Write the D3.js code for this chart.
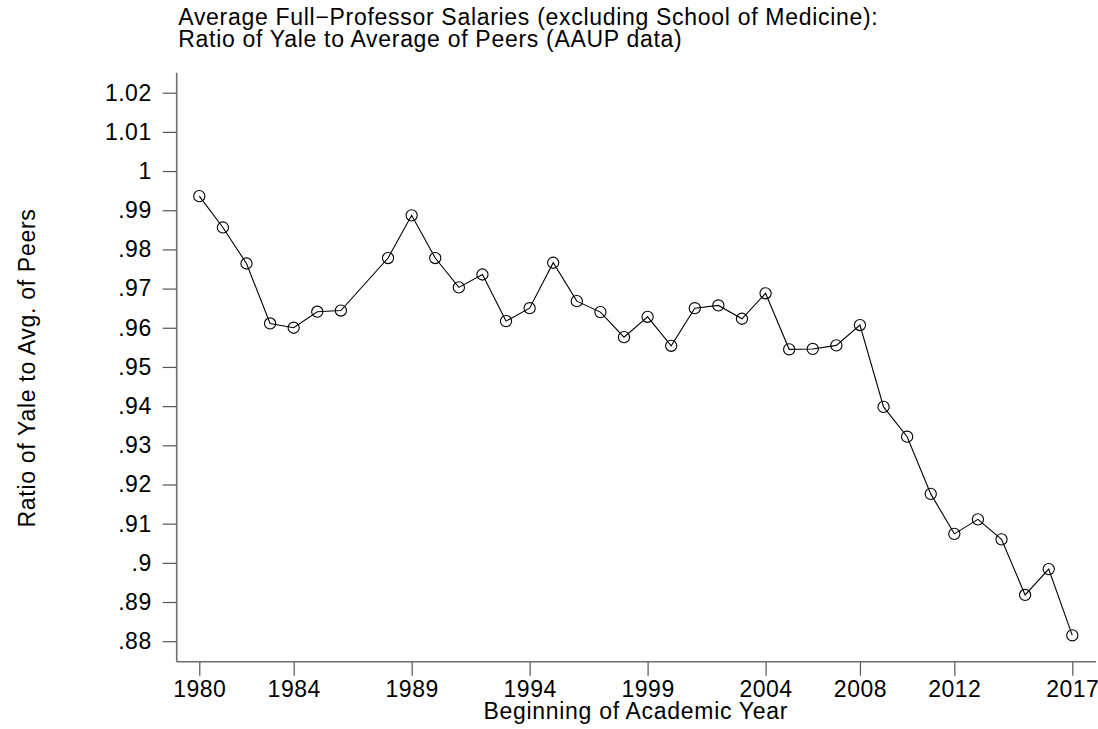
<!DOCTYPE html>
<meta charset="utf-8">
<style>
    body { margin: 0; background: #fff; }
    text { font-family: "Liberation Sans", Arial, sans-serif; fill: #000; }
    .tick text { font-size: 23px; letter-spacing: 0.5px; }
    .tick line { stroke: #555; stroke-width: 1.2px; }
    .axis-line { stroke: #6e6e6e; stroke-width: 1.6px; }
    .lbl { font-size: 23px; letter-spacing: 0.7px; }
    .series { fill: none; stroke: #000; stroke-width: 1.1px; }
    .pt { fill: none; stroke: #000; stroke-width: 1.1px; }
</style>
<body>
<script src="https://d3js.org/d3.v7.min.js"></script>
<script>
    // academic years (no 1987 observation)
    var years = [1980, 1981, 1982, 1983, 1984, 1985, 1986, 1988, 1989, 1990,
        1991, 1992, 1993, 1994, 1995, 1996, 1997, 1998, 1999, 2000,
        2001, 2002, 2003, 2004, 2005, 2006, 2007, 2008, 2009, 2010,
        2011, 2012, 2013, 2014, 2015, 2016, 2017];

    // ratio of Yale to average of peers
    var ratios = [.9936, .9856, .9764, .9611, .9600, .9641, .9644, .9778, .9887, .9778,
        .9703, .9736, .9617, .9650, .9766, .9668, .9640, .9576, .9628, .9554,
        .9650, .9657, .9623, .9688, .9545, .9546, .9555, .9607, .9398, .9322,
        .9176, .9074, .9111, .9060, .8918, .8984, .8815];

    var xTicks = [1980, 1984, 1989, 1994, 1999, 2004, 2008, 2012, 2017];
    var yTicks = [.88, .89, .9, .91, .92, .93, .94, .95, .96, .97, .98, .99, 1, 1.01, 1.02];

    var titleLines = ["Average Full\u2212Professor Salaries (excluding School of Medicine):",
        "Ratio of Yale to Average of Peers (AAUP data)"];
    var xTitle = "Beginning of Academic Year";
    var yTitle = "Ratio of Yale to Avg. of Peers";

    var W = 1098, H = 729;

    var x = d3.scaleLinear().domain([1980, 2017]).range([199.3, 1072.3]);
    var y = d3.scaleLinear().domain([.88, 1.02]).range([641.2, 92.7]);

    var axisX = 176.7, axisY = 661.7;

    var svg = d3.select("body").append("svg")
        .attr("width", W)
        .attr("height", H);

    // title
    svg.append("text")
        .attr("class", "lbl")
        .attr("x", 178.3)
        .attr("y", 25)
        .selectAll("tspan")
        .data(titleLines)
        .enter().append("tspan")
        .attr("x", 178.3)
        .attr("dy", function(d, i) { return i ? 21.7 : 0; })
        .text(function(d) { return d; });

    // y axis
    var fmt = function(d) { return d3.format(".2~f")(d).replace(/^0\./, "."); };
    svg.append("g")
        .attr("transform", "translate(" + axisX + ",0)")
        .call(d3.axisLeft(y).tickValues(yTicks).tickFormat(fmt).tickSize(14).tickPadding(11))
        .call(function(g) { g.select(".domain").remove(); });

    // x axis
    svg.append("g")
        .attr("transform", "translate(0," + axisY + ")")
        .call(d3.axisBottom(x).tickValues(xTicks).tickFormat(d3.format("d")).tickSize(14).tickPadding(5))
        .call(function(g) { g.select(".domain").remove(); });

    svg.selectAll(".tick text").attr("font-family", null).attr("font-size", null);

    // axis lines
    svg.append("line").attr("class", "axis-line")
        .attr("x1", axisX).attr("x2", axisX)
        .attr("y1", 72.7).attr("y2", axisY);
    svg.append("line").attr("class", "axis-line")
        .attr("x1", axisX).attr("x2", 1096)
        .attr("y1", axisY).attr("y2", axisY);

    // axis titles
    svg.append("text")
        .attr("class", "lbl")
        .attr("x", 635.8)
        .attr("y", 719)
        .attr("text-anchor", "middle")
        .text(xTitle);

    svg.append("text")
        .attr("class", "lbl")
        .attr("transform", "translate(35,368) rotate(-90)")
        .attr("text-anchor", "middle")
        .text(yTitle);

    // series
    var pts = years.map(function(yr, i) { return [yr, ratios[i]]; });

    svg.append("path")
        .attr("class", "series")
        .attr("d", d3.line()
            .x(function(d) { return x(d[0]); })
            .y(function(d) { return y(d[1]); })(pts));

    svg.selectAll(".pt")
        .data(pts)
        .enter().append("circle")
        .attr("class", "pt")
        .attr("cx", function(d) { return x(d[0]); })
        .attr("cy", function(d) { return y(d[1]); })
        .attr("r", 5.6);
</script>
</body>
